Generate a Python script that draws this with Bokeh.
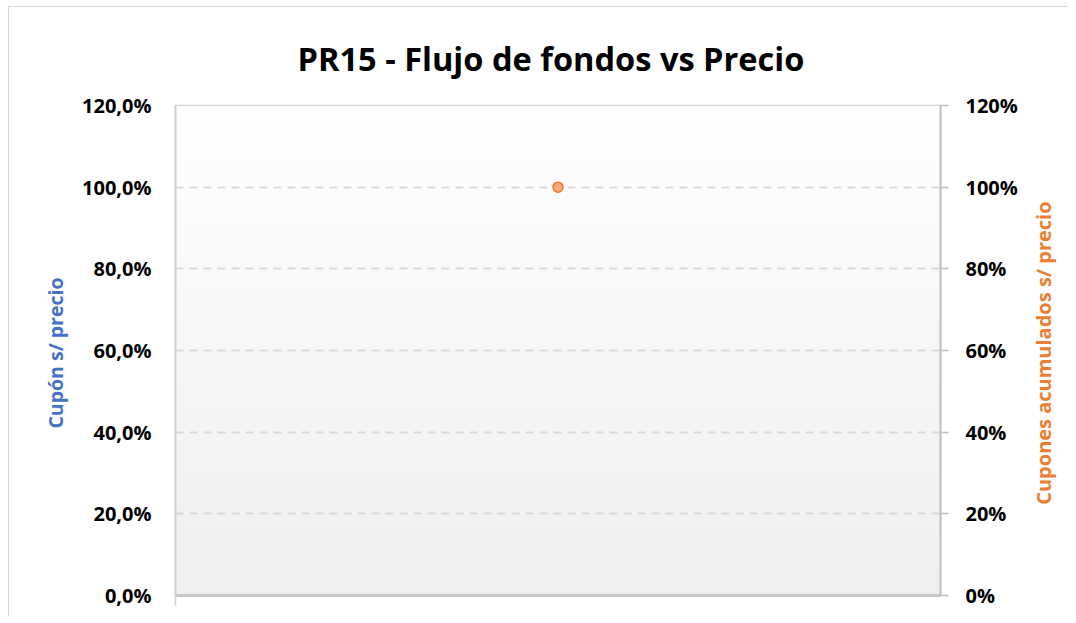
import numpy as np
from bokeh.plotting import figure
from bokeh.models import Range1d, LinearAxis, FixedTicker, Label
from bokeh.embed import file_html
from bokeh.resources import INLINE

# ---- data ----
categories = [1]
cupon_s_precio = []               # no visible values
cupones_acumulados = [1.00]       # 100%
y_ticks = [0.0, 0.2, 0.4, 0.6, 0.8, 1.0, 1.2]
left_tick_labels = ["0,0%", "20,0%", "40,0%", "60,0%", "80,0%", "100,0%", "120,0%"]
right_tick_labels = ["0%", "20%", "40%", "60%", "80%", "100%", "120%"]
title_text = "PR15 - Flujo de fondos vs Precio"
left_label = "Cupón  s/ precio"
right_label = "Cupones  acumulados s/ precio"

FONT = "Open Sans"

p = figure(width=1060, height=610, output_backend="svg", toolbar_location=None,
           x_range=Range1d(0.5, 1.5), y_range=Range1d(0, 1.2),
           min_border_left=166, min_border_right=129, min_border_top=98, min_border_bottom=22,
           y_axis_location=None, x_axis_location=None)
p.styles = {"margin-left": "8px", "margin-top": "6px",
            "border-left": "1px solid #d9d9d9", "border-top": "1px solid #d9d9d9"}
p.background_fill_color = "white"
p.border_fill_color = "white"
p.outline_line_color = "#c8c8c8"
p.outline_line_width = 1.5

# gradient background of the plot area
n = 200
vals = np.linspace(239, 255, n).astype(np.uint32)
img = np.empty((n, 1), dtype=np.uint32)
img[:, 0] = (255 << 24) | (vals << 16) | (vals << 8) | vals
p.image_rgba(image=[img], x=0.5, y=0, dw=1, dh=1.2, level="image")

# title
p.title.text = title_text
p.title.text_font = FONT
p.title.text_font_size = "32.6px"
p.title.text_font_style = "bold"
p.title.text_color = "black"
p.title.align = "left"
p.title.offset = 122
p.title.standoff = 50

# grid
p.xgrid.visible = False
p.ygrid.ticker = FixedTicker(ticks=y_ticks[1:-1])
p.ygrid.grid_line_color = "#d9d9d9"
p.ygrid.grid_line_width = 2
p.ygrid.grid_line_dash = "8 6"

# left axis
la = LinearAxis(ticker=FixedTicker(ticks=y_ticks),
                major_label_overrides={t: l for t, l in zip(y_ticks, left_tick_labels)})
la.axis_label = left_label
la.axis_label_text_font = FONT
la.axis_label_text_font_size = "19.5px"
la.axis_label_text_font_style = "bold"
la.axis_label_text_color = "#4472c4"
la.axis_label_standoff = 10
la.major_label_text_font = FONT
la.major_label_text_font_size = "20px"
la.major_label_text_font_style = "bold"
la.major_label_text_color = "black"
la.major_label_standoff = 24
la.major_tick_in = 0
la.major_tick_out = 0
la.major_tick_line_color = None
la.minor_tick_line_color = None
la.axis_line_color = "#d0d0d0"
la.axis_line_width = 2
p.add_layout(la, "left")

# right axis
p.extra_y_ranges = {"right": Range1d(0, 1.2)}
ra = LinearAxis(y_range_name="right", ticker=FixedTicker(ticks=y_ticks),
                major_label_overrides={t: l for t, l in zip(y_ticks, right_tick_labels)})
ra.major_label_text_font = FONT
ra.major_label_text_font_size = "20px"
ra.major_label_text_font_style = "bold"
ra.major_label_text_color = "black"
ra.major_label_standoff = 17
ra.major_tick_in = 0
ra.major_tick_out = 8
ra.major_tick_line_color = "#c0c0c0"
ra.major_tick_line_width = 1.5
ra.minor_tick_line_color = None
ra.axis_line_color = "#c0c0c0"
ra.axis_line_width = 2
p.add_layout(ra, "right")

# right axis title, reading bottom-to-top like the left one
rlab = Label(x=23, y=245, x_units="screen", y_units="screen", text=right_label,
             angle=float(np.pi / 2), text_align="center", text_baseline="middle",
             text_font=FONT, text_font_size="20px", text_font_style="bold",
             text_color="#ed7d31")
p.add_layout(rlab, "right")

# bottom axis
ba = LinearAxis(ticker=FixedTicker(ticks=[0.5]), major_label_overrides={0.5: ""})
ba.major_tick_in = 0
ba.major_tick_out = 10
ba.major_tick_line_color = "#d0d0d0"
ba.major_tick_line_width = 1.5
ba.minor_tick_line_color = None
ba.axis_line_color = "#c8c8c8"
ba.axis_line_width = 3
ba.major_label_text_font_size = "1px"
p.add_layout(ba, "below")

# series
p.scatter(x=categories, y=cupones_acumulados, y_range_name="right", size=10,
          fill_color="#f5a97a", line_color="#e8782e", line_width=1.5)

open("out.html", "w").write(file_html(p, INLINE))
